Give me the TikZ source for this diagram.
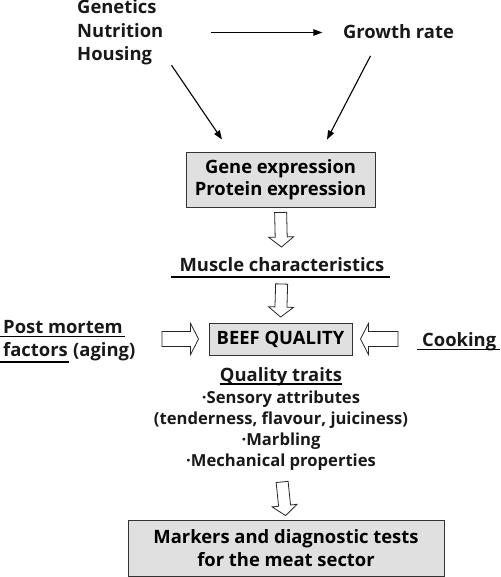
\documentclass[tikz,border=0pt]{standalone}
\usepackage{fontspec}
\setmainfont{Open Sans}
\usetikzlibrary{calc,arrows.meta}

% hollow block arrow: from, to, gap at start, gap at end, shaft half width, head half width, head length
\newcommand{\fatarrow}[7]{%
    \path ($(#1)!#3!(#2)$) coordinate (fa-s)
          ($(#2)!#4!(#1)$) coordinate (fa-t)
          ($(fa-t)!#7!(fa-s)$) coordinate (fa-h);
    \draw[fat] ($(fa-s)!#5!90:(fa-h)$) -- ($(fa-h)!#5!-90:(fa-s)$)
        -- ($(fa-h)!#6!-90:(fa-s)$) -- (fa-t) -- ($(fa-h)!#6!90:(fa-s)$)
        -- ($(fa-h)!#5!90:(fa-s)$) -- ($(fa-s)!#5!-90:(fa-h)$) -- cycle;
}

\tikzset{
    txt/.style={font=\bfseries\fontsize{18.4}{23.3}\selectfont, inner sep=0pt, text=black!90},
    listtxt/.style={font=\bfseries\fontsize{16.6}{21}\selectfont, inner sep=0pt, align=center, text=black!90},
    box/.style={draw=black!80, fill=black!12, line width=0.9pt, align=center,
        font=\bfseries\fontsize{18.4}{22.5}\selectfont, inner sep=0pt},
    thin/.style={-{Triangle[length=9pt,width=6.5pt]}, line width=1.1pt},
    uline/.style={line width=1.7pt},
    fat/.style={draw=black!85, fill=white, line width=0.8pt}
}

\begin{document}
\begin{tikzpicture}[x=1pt,y=1pt]
    \useasboundingbox (0,0) rectangle (500,-577);
    % Factors at the top
    \node[txt, align=left, anchor=west] (causes) at (77,-32.5) {Genetics\\Nutrition\\Housing};
    \node[txt, anchor=base] (growth) at (398.5,-39) {Growth rate};
    \draw[thin, shorten <=47pt, shorten >=20.5pt] (causes.east) -- (causes.east -| growth.west);
    % Gene and protein expression
    \node[box, minimum width=189pt, minimum height=55pt] (gene) at (280.5,-179.5) {Gene expression\\Protein expression};
    \draw[thin] ([xshift=8pt]causes.south east) -- ([xshift=-58.5pt,yshift=12pt]gene.north);
    \draw[thin] ([xshift=-28pt,yshift=-16.5pt]growth.south) -- ([xshift=46.5pt,yshift=12pt]gene.north);
    % Muscle characteristics
    \node[txt, anchor=base] (muscle) at (282,-271.5) {Muscle characteristics};
    \draw[uline] ([xshift=-8pt,yshift=-5.5pt]muscle.base west) -- ([xshift=5pt,yshift=-5.5pt]muscle.base east);
    \fatarrow{gene.south}{muscle.base}{5pt}{24.5pt}{6pt}{12.5pt}{10pt}
    % Beef quality in the middle
    \node[box, minimum width=143pt, minimum height=32pt] (beef) at (280.5,-339) {BEEF QUALITY};
    \fatarrow{muscle.base}{beef.north}{12.5pt}{5.5pt}{6pt}{12.5pt}{10pt}
    % Post mortem factors, left
    \node[txt, anchor=base west] (pm) at (3,-333) {Post mortem};
    \draw[uline] ([xshift=-3pt,yshift=-3.5pt]pm.base west) -- ([xshift=2pt,yshift=-3.5pt]pm.base east);
    \node[txt, anchor=base west] (fact) at (3,-356.5) {factors};
    \node[txt, anchor=base west] (aging) at ([xshift=5pt]fact.base east) {(aging)};
    \draw[uline] ([xshift=-3pt,yshift=-5.5pt]fact.base west) -- ([xshift=1.5pt,yshift=-5.5pt]fact.base east);
    \coordinate (pmtail) at (162,-339);
    \fatarrow{pmtail}{beef.west}{0pt}{10pt}{7.5pt}{15.5pt}{8pt}
    % Cooking, right
    \node[txt, anchor=base west] (cook) at (422,-346.5) {Cooking};
    \draw[uline] ([xshift=-5.5pt,yshift=-3pt]cook.base west) -- ([xshift=4pt,yshift=-3pt]cook.base east);
    \coordinate (cooktail) at (398,-339);
    \fatarrow{cooktail}{beef.east}{0pt}{8pt}{7.5pt}{15.5pt}{8pt}
    % Quality traits
    \node[txt, anchor=base] (quality) at (281,-381) {Quality traits};
    \draw[uline] ([yshift=-3pt]quality.base west) -- ([yshift=-3pt]quality.base east);
    \node[listtxt, anchor=north] (traits) at (281,-391) {·Sensory attributes\\(tenderness, flavour, juiciness)\\·Marbling\\·Mechanical properties};
    % Markers at the bottom
    \node[box, minimum width=316pt, minimum height=56pt] (markers) at (286,-548) {Markers and diagnostic tests\\for the meat sector};
    \fatarrow{traits.south}{markers.north}{11pt}{4pt}{6pt}{12.5pt}{10pt}
\end{tikzpicture}
\end{document}
